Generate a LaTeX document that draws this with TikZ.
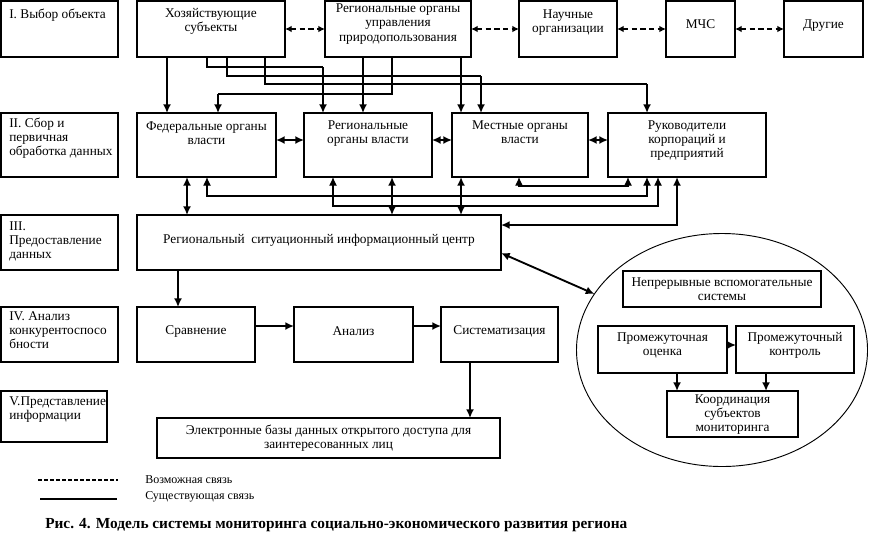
\documentclass[tikz,border=0pt]{standalone}
\usepackage{fontspec}
\setmainfont{Liberation Serif}
\usetikzlibrary{arrows.meta,calc,shapes.geometric}

\tikzset{
  >={Latex[length=6.5pt,width=6pt]},
  box/.style={draw, line width=0.9pt, inner sep=0pt, outer sep=0pt, anchor=north west},
  wh/.style 2 args={minimum width=#1*0.75pt, minimum height=#2*0.75pt},
  txt/.style={align=center, inner sep=0pt, anchor=north, font=\fontsize{10}{10.5}\selectfont},
  ltxt/.style={align=left, inner sep=0pt, anchor=north west, font=\fontsize{10}{10.5}\selectfont},
  link/.style={line width=0.8pt},
  drop/.style={line width=2.2pt, ->},
  both/.style={line width=2.2pt, <->},
  mid/.style={line width=1.4pt},
  maybe/.style={dashed, dash pattern=on 4pt off 2.5pt, line width=1.6pt, <->, >={Latex[length=5pt,width=5pt]}},
}

\begin{document}
\begin{tikzpicture}[x=0.75pt,y=0.75pt,yscale=-1,xscale=1]
\useasboundingbox (0,0) rectangle (873,554);

% left column: stages
\node[box, wh={117}{56}] (lab1) at (1,1) {};
\node[box, wh={117}{64}] (lab2) at (1,113) {};
\node[box, wh={117}{55}] (lab3) at (1,215) {};
\node[box, wh={117}{55}] (lab4) at (1,307) {};
\node[box, wh={106}{51}] (lab5) at (1,391) {};
\node[ltxt] (t-lab1) at ($(lab1.north west)+(8,8)$) {I. Выбор объекта};
\node[ltxt] (t-lab2) at ($(lab2.north west)+(8,5)$) {II. Сбор и\\первичная\\обработка данных};
\node[ltxt] (t-lab3) at ($(lab3.north west)+(8,6)$) {III.\\Предоставление\\данных};
\node[ltxt] (t-lab4) at ($(lab4.north west)+(8,4)$) {IV. Анализ\\конкурентоспосо\\бности};
\node[ltxt] (t-lab5) at ($(lab5.north west)+(8,5)$) {V.Представление\\информации};

% top row
\node[box, wh={148}{56}] (hoz) at (137,1) {};
\node[box, wh={146}{56}] (regupr) at (325,1) {};
\node[box, wh={98}{56}] (nauch) at (519,1) {};
\node[box, wh={69}{56}] (mchs) at (666,1) {};
\node[box, wh={79}{56}] (drug) at (784,1) {};
\node[txt] (t-hoz) at ($(hoz.north)+(0,7)$) {Хозяйствующие\\субъекты};
\node[txt] (t-regupr) at ($(regupr.north)+(0,3)$) {Региональные органы\\управления\\природопользования};
\node[txt] (t-nauch) at ($(nauch.north)+(0,8)$) {Научные\\организации};
\node[txt] (t-mchs) at ($(mchs.north)+(0,18)$) {МЧС};
\node[txt] (t-drug) at ($(drug.north)+(0,18)$) {Другие};

% second row
\node[box, wh={139}{64}] (fed) at (137,113) {};
\node[box, wh={128}{64}] (regvl) at (304,113) {};
\node[box, wh={136}{64}] (mest) at (452,113) {};
\node[box, wh={158}{64}] (ruk) at (608,113) {};
\node[txt] (t-fed) at ($(fed.north)+(0,8)$) {Федеральные органы\\власти};
\node[txt] (t-regvl) at ($(regvl.north)+(0,7)$) {Региональные\\органы власти};
\node[txt] (t-mest) at ($(mest.north)+(0,7)$) {Местные органы\\власти};
\node[txt] (t-ruk) at ($(ruk.north)+(0,7)$) {Руководители\\корпораций и\\предприятий};

% centre
\node[box, wh={364}{55}] (centr) at (137,215) {};
\node[txt, anchor=center] (t-centr) at ($(centr.center)+(0,-2)$) {Региональный~ ситуационный информационный центр};

% analysis row
\node[box, wh={118}{55}] (sravn) at (137,307) {};
\node[box, wh={119}{55}] (analiz) at (294,307) {};
\node[box, wh={117}{55}] (sist) at (441,307) {};
\node[txt, anchor=center] (t-sravn) at ($(sravn.center)+(0,-3)$) {Сравнение};
\node[txt, anchor=center] (t-analiz) at ($(analiz.center)+(0,-3)$) {Анализ};
\node[txt, anchor=center] (t-sist) at ($(sist.center)+(0,-3)$) {Систематизация};

\node[box, wh={343}{40}] (baza) at (157,418) {};
\node[txt, anchor=center] (t-baza) at (baza.center) {Электронные базы данных открытого доступа для\\заинтересованных лиц};

% monitoring oval
\node[draw, ellipse, line width=0.7pt, inner sep=0pt, outer sep=0pt, wh={291}{233}] (oval) at (722,350) {};
\node[box, wh={198}{36}] (nepr) at (623,271) {};
\node[box, wh={129}{47}] (promoc) at (598,326) {};
\node[box, wh={118}{47}] (promk) at (736,326) {};
\node[box, wh={131}{46}] (koord) at (667,391) {};
\node[txt, anchor=center] (t-nepr) at (nepr.center) {Непрерывные вспомогательные\\системы};
\node[txt, anchor=center] (t-promoc) at ($(promoc.center)+(0,-4)$) {Промежуточная\\оценка};
\node[txt, anchor=center] (t-promk) at ($(promk.center)+(0,-4)$) {Промежуточный\\контроль};
\node[txt, anchor=center] (t-koord) at ($(koord.center)+(0,1)$) {Координация\\субъектов\\мониторинга};

% possible links
\draw[maybe] (hoz) -- (regupr);
\draw[maybe] (regupr) -- (nauch);
\draw[maybe] (nauch) -- (mchs);
\draw[maybe] (mchs) -- (drug);

% from top row down
\draw[drop] (hoz.south -| 167,0) -- (fed.north -| 167,0);
\draw[link] (hoz.south -| 207,0) |- (323,67) coordinate (h2);
\draw[drop] (h2) -- (regvl.north -| h2);
\draw[link] (hoz.south -| 227,0) |- (481,76) coordinate (h3);
\draw[drop] (h3) -- (mest.north -| h3);
\draw[link] (hoz.south -| 265,0) |- (647,84) coordinate (h4);
\draw[drop] (h4) -- (ruk.north -| h4);
\draw[drop] (regupr.south -| 363,0) -- (regvl.north -| 363,0);
\draw[link] (regupr.south -| 392,0) |- (218,94) coordinate (r2);
\draw[drop] (r2) -- (fed.north -| r2);
\draw[drop] (regupr.south -| 461,0) -- (mest.north -| 461,0);

% second row
\draw[both] (fed.east |- 0,140) -- (regvl.west |- 0,140);
\draw[both] (regvl.east |- 0,140) -- (mest.west |- 0,140);
\draw[both] (mest.east |- 0,140) -- (ruk.west |- 0,140);
\draw[both] (fed.south -| 187,0) -- (centr.north -| 187,0);
\draw[both] (regvl.south -| 392,0) -- (centr.north -| 392,0);
\draw[both] (mest.south -| 461,0) -- (centr.north -| 461,0);
\draw[link, <->] (fed.south -| 207,0) |- (647,196) -- (ruk.south -| 647,0);
\draw[link, <->] (regvl.south -| 333,0) |- (658,206) -- (ruk.south -| 658,0);
\draw[link, <->] (mest.south -| 519,0) |- (628,186) -- (ruk.south -| 628,0);
\draw[both] (ruk.south -| 677,0) |- (centr.east |- 0,225);

% centre and below
\draw[mid, <->] (centr.east |- 0,253) -- (oval);
\draw[drop] (centr.south -| 178,0) -- (sravn.north -| 178,0);
\draw[mid, ->] (sravn.east |- 0,326) -- (analiz.west |- 0,326);
\draw[mid, ->] (analiz.east |- 0,326) -- (sist.west |- 0,326);
\draw[mid, ->] (sist.south -| 470,0) -- (baza.north -| 470,0);

% inside the oval
\draw[mid, ->] (promoc.east |- 0,345) -- (promk.west |- 0,345);
\draw[drop] (promoc.south -| 677,0) -- (koord.north -| 677,0);
\draw[drop] (promk.south -| 766,0) -- (koord.north -| 766,0);

% legend
\coordinate (d1) at (38,480);
\coordinate (d2) at (118,480);
\coordinate (s1) at (40,499);
\coordinate (s2) at (117,499);
\draw[dashed, dash pattern=on 3pt off 1.5pt, line width=1.2pt] (d1) -- (d2);
\draw[line width=0.8pt] (s1) -- (s2);
\node[anchor=west, inner sep=0pt, font=\fontsize{9}{10}\selectfont] (l-maybe) at (145,480) {Возможная связь};
\node[anchor=west, inner sep=0pt, font=\fontsize{9}{10}\selectfont] (l-real) at (145,497) {Существующая связь};

\node[anchor=west, inner sep=0pt, font=\bfseries\fontsize{11.5}{13}\selectfont] (cap) at (45,525) {Рис. 4. Модель системы мониторинга социально-экономического развития региона};

\end{tikzpicture}
\end{document}
